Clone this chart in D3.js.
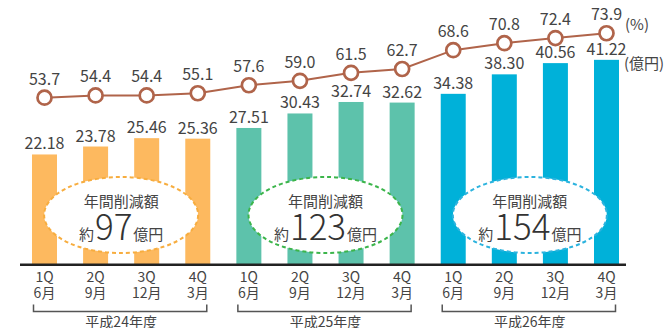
<!DOCTYPE html>
<html>
<head>
<meta charset="utf-8">
<script src="https://cdn.jsdelivr.net/npm/d3@7"></script>
<style>
  body { margin: 0; background: #fff; }
  svg text { font-family: "Noto Sans CJK JP", "Noto Sans", sans-serif; fill: #444; }
</style>
</head>
<body>
<div id="chart"></div>
<script>
// quarterly values
var quarters = ["1Q", "2Q", "3Q", "4Q"];
var months = ["6月", "9月", "12月", "3月"];
var years = ["平成24年度", "平成25年度", "平成26年度"];
var savings = [22.18, 23.78, 25.46, 25.36, 27.51, 30.43, 32.74, 32.62, 34.38, 38.30, 40.56, 41.22];
var rates = [53.7, 54.4, 54.4, 55.1, 57.6, 59.0, 61.5, 62.7, 68.6, 70.8, 72.4, 73.9];
var yearTotals = [97, 123, 154];

var svgWidth = 669;
var svgHeight = 328;

var barColors = ["#fdb95f", "#5dc2ab", "#00b1d9"];
var dashColors = ["#f7ad3f", "#3cb54b", "#2cb3de"];
var lineColor = "#b0644a";

var svg = d3.select("#chart")
    .append("svg")
    .attr("width", svgWidth)
    .attr("height", svgHeight);

var idx = d3.range(savings.length);

// one point per quarter
var x = d3.scalePoint()
    .domain(idx)
    .range([44.5, 606.5]);

var baseY = 264.7;
var yBar = d3.scaleLinear()
    .domain([0, 45])
    .range([baseY, baseY - 45 * 4.97]);

// the rate line has its own scale
var yLine = d3.scaleLinear()
    .domain([40, 80])
    .range([141.4, 13.8]);

var barW = 25;

// bars
svg.selectAll("rect.bar")
    .data(savings)
    .enter()
    .append("rect")
    .attr("class", "bar")
    .attr("x", (d, i) => x(i) - barW / 2)
    .attr("y", d => yBar(d))
    .attr("width", barW)
    .attr("height", d => baseY - yBar(d))
    .attr("fill", (d, i) => barColors[Math.floor(i / 4)]);

// bar labels
svg.selectAll("text.barlabel")
    .data(savings)
    .enter()
    .append("text")
    .attr("class", "barlabel")
    .attr("x", (d, i) => x(i))
    .attr("y", d => yBar(d) - 5)
    .attr("text-anchor", "middle")
    .style("font-size", "16px")
    .text(d => d.toFixed(2));

// annual total ellipses
var groupCenter = (g) => (x(g * 4) + x(g * 4 + 3)) / 2;

var ell = svg.selectAll("g.total")
    .data(yearTotals)
    .enter()
    .append("g")
    .attr("class", "total")
    .attr("transform", (d, g) => `translate(${groupCenter(g)}, 215)`);

ell.append("ellipse")
    .attr("rx", 77)
    .attr("ry", 38)
    .attr("fill", "#fff")
    .attr("stroke", (d, g) => dashColors[g])
    .attr("stroke-width", 2)
    .attr("stroke-dasharray", "4,3");

ell.append("text")
    .attr("y", -8)
    .attr("text-anchor", "middle")
    .style("font-size", "15px")
    .text("年間削減額");

var totalText = ell.append("text")
    .attr("y", 25)
    .attr("text-anchor", "middle");
totalText.append("tspan")
    .style("font-size", "15px")
    .text("約");
totalText.append("tspan")
    .style("font-size", "35px")
    .style("font-weight", 300)
    .style("fill", "#333")
    .attr("dx", 1)
    .text(d => d);
totalText.append("tspan")
    .style("font-size", "15px")
    .attr("dx", 1)
    .text("億円");

// baseline
svg.append("line")
    .attr("x1", 20)
    .attr("x2", 626)
    .attr("y1", baseY)
    .attr("y2", baseY)
    .attr("stroke", "#222")
    .attr("stroke-width", 2.5);

// quarter / month labels
var tick = svg.selectAll("g.tick")
    .data(idx)
    .enter()
    .append("g")
    .attr("class", "tick")
    .attr("transform", d => `translate(${x(d)}, 0)`);

tick.append("text")
    .attr("y", 282)
    .attr("text-anchor", "middle")
    .style("font-size", "14px")
    .text(d => quarters[d % 4]);

tick.append("text")
    .attr("y", 298)
    .attr("text-anchor", "middle")
    .style("font-size", "14px")
    .text(d => months[d % 4]);

// fiscal year brackets
var yr = svg.selectAll("g.year")
    .data(years)
    .enter()
    .append("g")
    .attr("class", "year");

yr.append("path")
    .attr("d", (d, g) => {
        var x0 = x(g * 4) - 11, x1 = x(g * 4 + 3) + 9;
        return `M${x0},304.5V311.5H${x1}V304.5`;
    })
    .attr("fill", "none")
    .attr("stroke", "#555")
    .attr("stroke-width", 1.5);

yr.append("text")
    .attr("x", (d, g) => groupCenter(g))
    .attr("y", 327)
    .attr("text-anchor", "middle")
    .style("font-size", "14px")
    .text(d => d);

// rate line
var line = d3.line()
    .x((d, i) => x(i))
    .y(d => yLine(d));

svg.append("path")
    .datum(rates)
    .attr("d", line)
    .attr("fill", "none")
    .attr("stroke", lineColor)
    .attr("stroke-width", 2);

svg.selectAll("circle.dot")
    .data(rates)
    .enter()
    .append("circle")
    .attr("class", "dot")
    .attr("cx", (d, i) => x(i))
    .attr("cy", d => yLine(d))
    .attr("r", 7)
    .attr("fill", "#fff")
    .attr("stroke", lineColor)
    .attr("stroke-width", 2.7);

svg.selectAll("text.ratelabel")
    .data(rates)
    .enter()
    .append("text")
    .attr("class", "ratelabel")
    .attr("x", (d, i) => x(i))
    .attr("y", d => yLine(d) - 13)
    .attr("text-anchor", "middle")
    .style("font-size", "16px")
    .text(d => d.toFixed(1));

// units
svg.append("text")
    .attr("x", 625)
    .attr("y", 30)
    .style("font-size", "15px")
    .text("(%)");

svg.append("text")
    .attr("x", 624)
    .attr("y", 69)
    .style("font-size", "15px")
    .text("(億円)");
</script>
</body>
</html>
